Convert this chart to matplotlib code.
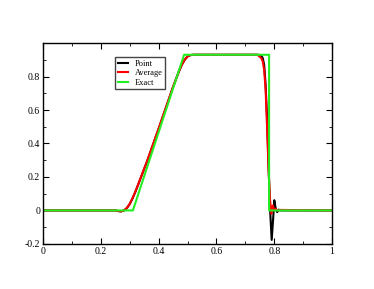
import matplotlib
matplotlib.use("Agg")
import matplotlib.pyplot as plt
from matplotlib.ticker import MultipleLocator, FormatStrFormatter

plt.rcParams['font.family'] = ['Liberation Serif', 'DejaVu Serif']

# Exact solution
exact_x = [0.0, 0.311, 0.488, 0.782, 0.782, 1.0]
exact_y = [0.0, 0.0, 0.93, 0.93, 0.0, 0.0]

# Cell average scheme
avg_x = [0.0, 0.25, 0.26, 0.27, 0.28, 0.29, 0.30, 0.31, 0.32, 0.33, 0.34, 0.36,
         0.40, 0.45, 0.47, 0.48, 0.49, 0.50, 0.51, 0.52, 0.74, 0.745, 0.755, 0.76,
         0.765, 0.77, 0.775, 0.78, 0.785, 0.79, 0.795, 0.80, 0.805, 0.81, 0.82, 1.0]
avg_y = [0.0, 0.0, -0.003, -0.005, 0.0, 0.015, 0.04, 0.075, 0.115, 0.16, 0.205, 0.295,
         0.49, 0.74, 0.83, 0.87, 0.90, 0.92, 0.928, 0.93, 0.93, 0.925, 0.91, 0.89,
         0.84, 0.72, 0.50, 0.25, 0.07, -0.02, 0.03, 0.0, 0.01, 0.0, 0.003, 0.0]

# Point value scheme
pt_x = [0.0, 0.25, 0.26, 0.27, 0.28, 0.29, 0.30, 0.31, 0.32, 0.33, 0.34, 0.36,
        0.40, 0.45, 0.47, 0.48, 0.49, 0.50, 0.51, 0.52, 0.745, 0.755, 0.76, 0.765,
        0.77, 0.775, 0.78, 0.785, 0.791, 0.796, 0.800, 0.805, 0.81, 0.815, 0.82, 1.0]
pt_y = [0.0, 0.0, -0.004, -0.006, 0.0, 0.014, 0.038, 0.073, 0.113, 0.158, 0.203, 0.293,
        0.488, 0.738, 0.83, 0.87, 0.90, 0.92, 0.928, 0.93, 0.93, 0.925, 0.91, 0.87,
        0.75, 0.55, 0.28, 0.02, -0.176, -0.05, 0.061, 0.01, -0.01, 0.005, 0.0, 0.0]

fig = plt.figure(figsize=(3.74, 2.89), dpi=100)
ax = fig.add_axes([0.115, 0.156, 0.773, 0.695])

ax.plot(pt_x, pt_y, color='black', lw=1.5, label='Point')
ax.plot(avg_x, avg_y, color='red', lw=1.5, label='Average')
ax.plot(exact_x, exact_y, color='#22ee22', lw=1.5, label='Exact')

ax.set_xlim(0, 1)
ax.set_ylim(-0.2, 1.0)
ax.xaxis.set_major_locator(MultipleLocator(0.2))
ax.xaxis.set_minor_locator(MultipleLocator(0.1))
ax.yaxis.set_major_locator(MultipleLocator(0.2))
ax.yaxis.set_minor_locator(MultipleLocator(0.1))
ax.xaxis.set_major_formatter(FormatStrFormatter('%g'))
ax.yaxis.set_major_formatter(FormatStrFormatter('%g'))
ax.set_yticks([-0.2, 0, 0.2, 0.4, 0.6, 0.8])
ax.tick_params(which='both', direction='in', top=True, right=True, labelsize=7, pad=2)
ax.tick_params(which='major', length=4)
ax.tick_params(which='minor', length=2)
for s in ax.spines.values():
    s.set_linewidth(1.0)

leg = ax.legend(loc='upper left', bbox_to_anchor=(0.249, 0.93), fontsize=6,
                fancybox=False, framealpha=1, edgecolor='#444444',
                handlelength=1.2, handletextpad=0.8, borderpad=0.35,
                labelspacing=0.15, borderaxespad=0)
leg.get_frame().set_linewidth(1.0)

fig.savefig('out.png', dpi=100)
